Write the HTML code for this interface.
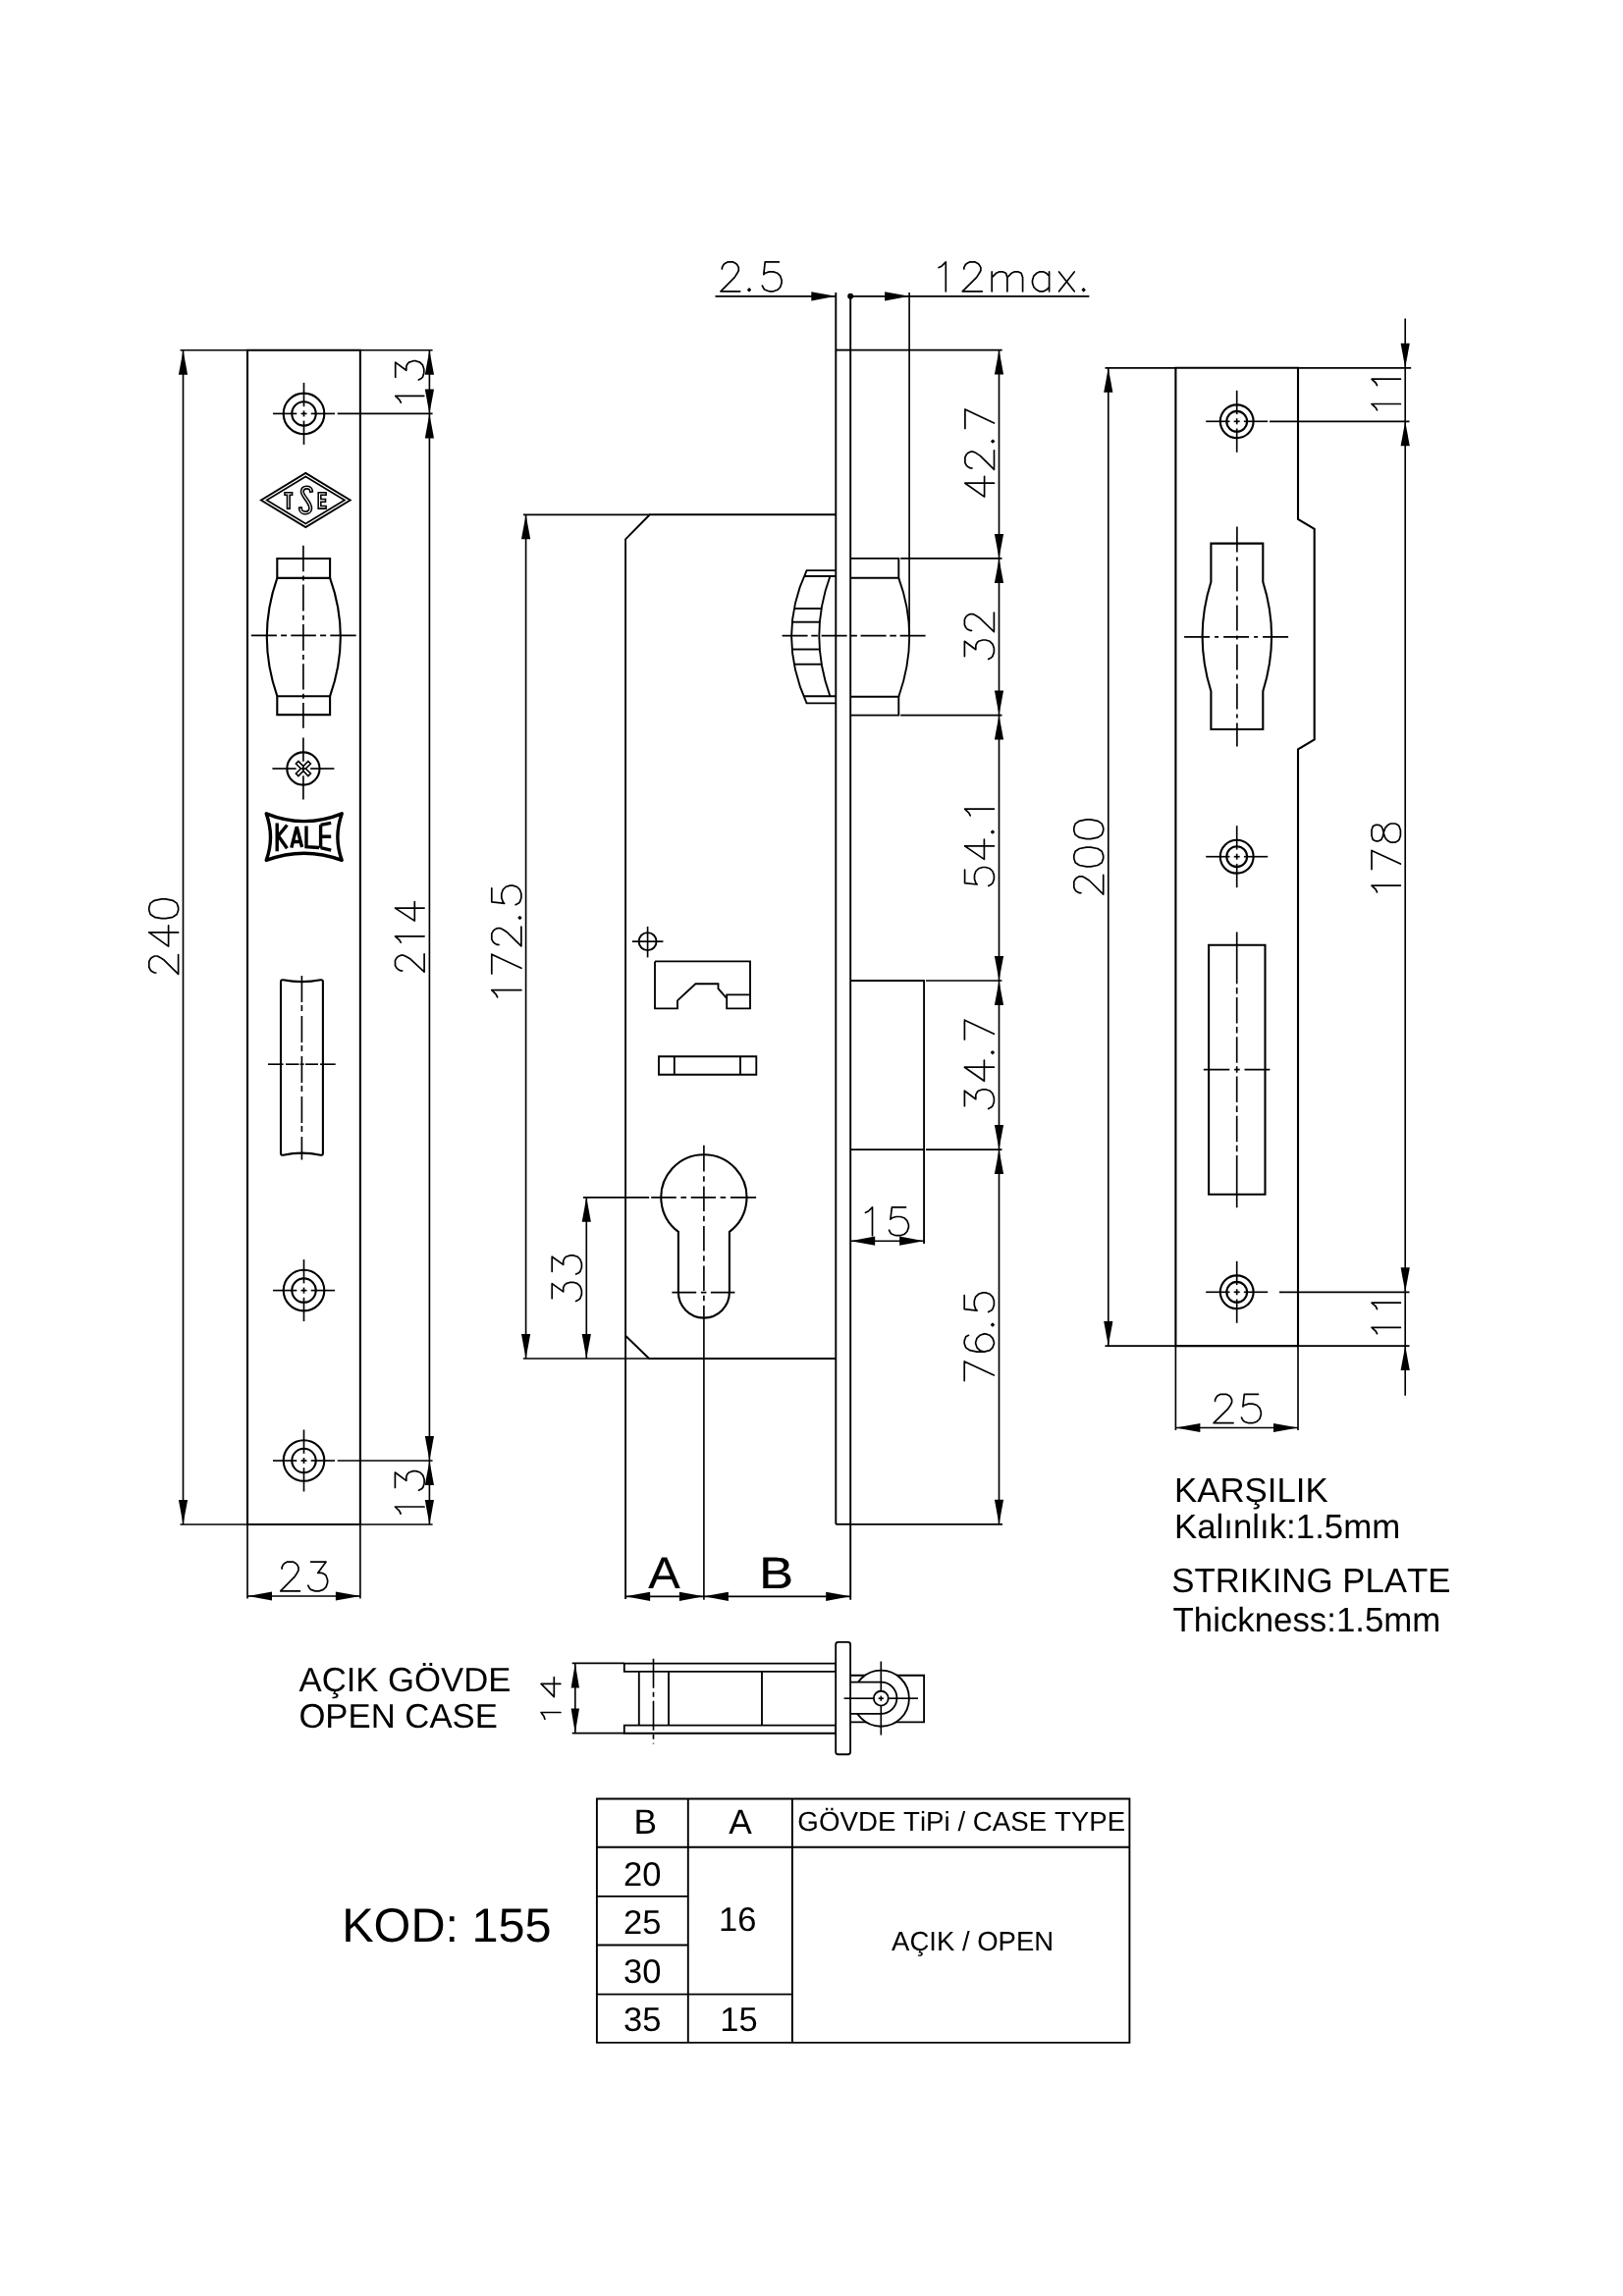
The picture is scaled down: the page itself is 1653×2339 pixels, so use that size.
<!DOCTYPE html>
<html><head><meta charset="utf-8"><title>KOD 155</title>
<style>
html,body{margin:0;padding:0;background:#fff}
svg{display:block;will-change:transform}
path,circle,rect{fill:none;stroke:#000;stroke-linecap:butt;stroke-linejoin:miter}
.k{stroke-width:2.1}
.m{stroke-width:1.9}
.n{stroke-width:1.85}
.g{stroke-width:1.9}
.t{stroke-width:1.65}
.c{stroke-width:1.65}
.h{stroke-width:1.7;stroke-linecap:round;stroke-linejoin:round}
.a{fill:#000;stroke:none}
.w{stroke:#fff}
text{font-family:"Liberation Sans",sans-serif;fill:#000;font-kerning:none;text-rendering:geometricPrecision}
</style></head>
<body>
<svg width="1653" height="2339" viewBox="0 0 1653 2339">
<rect x="0" y="0" width="1653" height="2339" style="fill:#fff;stroke:none"/>
<path class="k" d="M252.0 356.7H366.9V1553.0H252.0Z"/>
<circle class="k" cx="309.5" cy="421.4" r="20.8"/>
<circle class="k" cx="309.5" cy="421.4" r="12.2"/>
<path class="c" d="M278 421.4L302.3 421.4"/>
<path class="c" d="M306.5 421.4L312.5 421.4"/>
<path class="c" d="M316.7 421.4L341 421.4"/>
<path class="c" d="M309.5 389.9L309.5 414.2"/>
<path class="c" d="M309.5 418.4L309.5 424.4"/>
<path class="c" d="M309.5 428.6L309.5 452.9"/>
<circle class="k" cx="309.5" cy="1314.6" r="20.8"/>
<circle class="k" cx="309.5" cy="1314.6" r="12.2"/>
<path class="c" d="M278 1314.6L302.3 1314.6"/>
<path class="c" d="M306.5 1314.6L312.5 1314.6"/>
<path class="c" d="M316.7 1314.6L341 1314.6"/>
<path class="c" d="M309.5 1283.1L309.5 1307.4"/>
<path class="c" d="M309.5 1311.6L309.5 1317.6"/>
<path class="c" d="M309.5 1321.8L309.5 1346.1"/>
<circle class="k" cx="309.5" cy="1488" r="20.8"/>
<circle class="k" cx="309.5" cy="1488" r="12.2"/>
<path class="c" d="M278 1488L302.3 1488"/>
<path class="c" d="M306.5 1488L312.5 1488"/>
<path class="c" d="M316.7 1488L341 1488"/>
<path class="c" d="M309.5 1456.5L309.5 1480.8"/>
<path class="c" d="M309.5 1485L309.5 1491"/>
<path class="c" d="M309.5 1495.2L309.5 1519.5"/>
<path class="k" d="M265.9 509.5L311.3 481.9L356.7 509.5L311.3 537.1Z" style="stroke-width:1.9"/>
<path class="k" d="M271.7 509.5L311.3 485.4L350.9 509.5L311.3 533.6Z" style="stroke-width:1.7"/>
<path class="k" d="M291.3 503H296.3M293.8 503V516.8 M316.9 499.8C316.3 495.5 308.2 495.1 307.8 500.7C307.5 505.2 316.4 511.5 316.2 517.9C316 523.5 306.7 524.2 306 518.4 M330.8 503H325.5V516.8H330.8M325.5 509.9H330.2" style="stroke-width:4.2;stroke-linecap:square;stroke-linejoin:miter"/>
<path class="w" d="M291.3 503H296.3M293.8 503V516.8 M316.9 499.8C316.3 495.5 308.2 495.1 307.8 500.7C307.5 505.2 316.4 511.5 316.2 517.9C316 523.5 306.7 524.2 306 518.4 M330.8 503H325.5V516.8H330.8M325.5 509.9H330.2" style="stroke-width:1.1;stroke-linecap:square;stroke-linejoin:miter"/>
<path class="k" d="M282.3 569H336.1V588.9H282.3ZM282.3 709.2H336.1V728.1H282.3Z"/>
<path class="k" d="M282.3 588.9Q261.3 648.6 282.3 709.2M336.1 588.9Q357.5 648.6 336.1 709.2"/>
<path class="c" d="M308.9 555.8L308.9 582.2M308.9 586.4L308.9 591.4M308.9 595.6L308.9 622.5M308.9 626.7L308.9 631.7M308.9 635.9L308.9 662.8M308.9 667.0L308.9 672.0M308.9 676.2L308.9 702.5M308.9 706.7L308.9 711.7M308.9 715.9L308.9 741.8"/>
<path class="c" d="M255.8 647.3L281.9 647.3M286.1 647.3L292.1 647.3M296.3 647.3L321.9 647.3M326.1 647.3L332.1 647.3M336.3 647.3L362.7 647.3"/>
<circle class="k" cx="308.9" cy="783" r="16.6"/>
<path class="c" d="M277.4 783L301.7 783"/>
<path class="c" d="M305.9 783L311.9 783"/>
<path class="c" d="M316.1 783L340.4 783"/>
<path class="c" d="M308.9 751.5L308.9 775.8"/>
<path class="c" d="M308.9 780L308.9 786"/>
<path class="c" d="M308.9 790.2L308.9 814.5"/>
<path class="k" d="M313.9 775.5L316.4 778.0L311.4 783.0L316.4 788.0L313.9 790.5L308.9 785.5L303.9 790.5L301.4 788.0L306.4 783.0L301.4 778.0L303.9 775.5L308.9 780.5Z" style="stroke-width:1.6"/>
<path class="k" d="M271.2 828.8Q309.7 844.4 348.2 828.8Q339.6 852.6 348.2 876.4Q309.7 862 271.2 876.4Q279.8 852.6 271.2 828.8Z" style="stroke-width:3.4;stroke-linejoin:round"/>
<path class="k" d="M282.2 838.6V867.2M292.4 840.5L283.4 851.5L292.4 864.3 M296.8 863.6L302.2 842.3L307.6 863M299 857.5H306 M312 841.6V862.6L325 863.5 M326.6 840.3V863.7M326.6 840.3L337.2 838.3M326.6 852.3H337.2M326.6 863.7L337.2 866.1" style="stroke-width:3.4;stroke-linecap:butt;stroke-linejoin:miter"/>
<path class="k" d="M286 1000.3Q286 998 288.3 998.3Q307.4 1002 326.6 998.3Q328.9 998 328.9 1000.3V1174.7Q328.9 1177 326.6 1176.7Q307.4 1172.5 288.3 1176.7Q286 1177 286 1174.7Z"/>
<path class="c" d="M307.4 994L307.4 1181.4" stroke-dasharray="27 3 6 5" stroke-dashoffset="0"/>
<path class="c" d="M273 1084.2L288.5 1084.2"/>
<path class="c" d="M291 1084.2L304.5 1084.2"/>
<path class="c" d="M305.6 1084.2L309.6 1084.2"/>
<path class="c" d="M311 1084.2L324 1084.2"/>
<path class="c" d="M326 1084.2L341.7 1084.2"/>
<path class="t" d="M183.5 356.7L252 356.7"/>
<path class="t" d="M183.5 1553L252 1553"/>
<path class="t" d="M186.5 356.7L186.5 1553"/>
<path class="a" d="M186.5 356.7L191.1 381.7L181.9 381.7Z"/>
<path class="a" d="M186.5 1553L181.9 1528L191.1 1528Z"/>
<path class="t" d="M366.9 356.7L440.6 356.7"/>
<path class="t" d="M366.9 1553L440.6 1553"/>
<path class="t" d="M343.7 421.4L440.6 421.4"/>
<path class="t" d="M343.7 1488L440.6 1488"/>
<path class="t" d="M437.4 356.7L437.4 1553"/>
<path class="a" d="M437.4 356.7L442 381.7L432.8 381.7Z"/>
<path class="a" d="M437.4 421.4L432.8 396.4L442 396.4Z"/>
<path class="a" d="M437.4 421.4L442 446.4L432.8 446.4Z"/>
<path class="a" d="M437.4 1488L432.8 1463L442 1463Z"/>
<path class="a" d="M437.4 1488L442 1513L432.8 1513Z"/>
<path class="a" d="M437.4 1553L432.8 1528L442 1528Z"/>
<path class="t" d="M252 1553L252 1628.6"/>
<path class="t" d="M366.9 1553L366.9 1628.6"/>
<path class="t" d="M252 1626L366.9 1626"/>
<path class="a" d="M252 1626L277 1621.4L277 1630.6Z"/>
<path class="a" d="M366.9 1626L341.9 1630.6L341.9 1621.4Z"/>
<path class="h" d="M408.3 410.1 L406.9 407.4 L402.7 403.3 L431.8 403.3 M402.7 384.2 L402.7 369.1 L413.8 377.3 L413.8 373.2 L415.2 370.5 L416.6 369.1 L420.8 367.7 L423.5 367.7 L427.7 369.1 L430.5 371.9 L431.8 376.0 L431.8 380.1 L430.5 384.2 L429.1 385.5 L426.3 386.9"/>
<path class="h" d="M158.8 991.0 L157.4 991.0 L154.6 989.6 L153.2 988.2 L151.8 985.4 L151.8 979.7 L153.2 976.8 L154.6 975.4 L157.4 974.0 L160.3 974.0 L163.1 975.4 L167.4 978.3 L181.6 992.4 L181.6 972.6 M151.8 949.9 L171.6 964.1 L171.6 942.8 M151.8 949.9 L181.6 949.9 M151.8 927.2 L153.2 931.5 L157.4 934.3 L164.5 935.7 L168.8 935.7 L175.9 934.3 L180.1 931.5 L181.6 927.2 L181.6 924.4 L180.1 920.1 L175.9 917.3 L168.8 915.9 L164.5 915.9 L157.4 917.3 L153.2 920.1 L151.8 924.4 L151.8 927.2"/>
<path class="h" d="M409.6 988.9 L408.2 988.9 L405.4 987.5 L404.0 986.2 L402.5 983.6 L402.5 978.4 L404.0 975.9 L405.4 974.5 L408.2 973.2 L411.0 973.2 L413.8 974.5 L418.1 977.1 L432.1 990.1 L432.1 971.9 M408.2 960.2 L406.8 957.6 L402.5 953.8 L432.1 953.8 M402.5 925.1 L422.3 938.1 L422.3 918.6 M402.5 925.1 L432.1 925.1"/>
<path class="h" d="M408.1 1542.0 L406.7 1539.2 L402.4 1535.0 L432.1 1535.0 M402.4 1515.4 L402.4 1500.0 L413.8 1508.4 L413.8 1504.2 L415.2 1501.4 L416.6 1500.0 L420.8 1498.6 L423.7 1498.6 L427.9 1500.0 L430.7 1502.8 L432.1 1507.0 L432.1 1511.2 L430.7 1515.4 L429.3 1516.8 L426.5 1518.2"/>
<path class="h" d="M287.1 1598.1 L287.1 1596.7 L288.5 1593.9 L289.9 1592.5 L292.7 1591.1 L298.3 1591.1 L301.1 1592.5 L302.6 1593.9 L304.0 1596.7 L304.0 1599.6 L302.6 1602.4 L299.7 1606.7 L285.7 1620.9 L305.4 1620.9 M316.6 1591.1 L332.1 1591.1 L323.7 1602.4 L327.9 1602.4 L330.7 1603.8 L332.1 1605.2 L333.6 1609.5 L333.6 1612.3 L332.1 1616.6 L329.3 1619.4 L325.1 1620.9 L320.9 1620.9 L316.6 1619.4 L315.2 1618.0 L313.8 1615.2"/>
<path class="m" d="M851.3 298V1552.8 M866.2 301.8V1629.8"/>
<path class="m" d="M851.3 356.6L866.2 356.6"/>
<path class="m" d="M851.3 1552.8L866.2 1552.8"/>
<path class="m" d="M851.3 524.3H661.8L637.1 549.3V1360.8L661.1 1384.0H851.3"/>
<path class="m" d="M637.1 1360.8L637.1 1629"/>
<path class="t" d="M533 524.3L661.8 524.3"/>
<path class="t" d="M532.8 1384L661.1 1384"/>
<path class="t" d="M535.6 524.3L535.6 1384"/>
<path class="a" d="M535.6 524.3L540.2 549.3L531 549.3Z"/>
<path class="a" d="M535.6 1384L531 1359L540.2 1359Z"/>
<path class="t" d="M593.9 1219.8L661.2 1219.8"/>
<path class="t" d="M597.3 1219.8L597.3 1384"/>
<path class="a" d="M597.3 1219.8L601.9 1244.8L592.7 1244.8Z"/>
<path class="a" d="M597.3 1384L592.7 1359L601.9 1359Z"/>
<path class="k" d="M690.9 1254.8A43.6 43.6 0 1 1 742.9 1254.8V1316.6A26.0 26.0 0 0 1 690.9 1316.6Z"/>
<path class="c" d="M663.2 1219.8L688.8 1219.8M693.4 1219.8L699.1 1219.8M703.7 1219.8L729.0 1219.8M733.6 1219.8L739.2 1219.8M743.9 1219.8L770.1 1219.8"/>
<path class="c" d="M716.9 1166.8L716.9 1193.6M716.9 1198.3L716.9 1203.7M716.9 1208.4L716.9 1234.1M716.9 1238.8L716.9 1244.2M716.9 1248.9L716.9 1274.6M716.9 1279.3L716.9 1284.7M716.9 1289.4L716.9 1315.1M716.9 1319.8L716.9 1325.2M716.9 1329.9L716.9 1629.8"/>
<path class="c" d="M684.4 1316.6L709.2 1316.6M713.9 1316.6L719.4 1316.6M723.9 1316.6L748.4 1316.6"/>
<circle class="m" cx="659.6" cy="959.1" r="9"/>
<path class="t" d="M643.9 959.1L675.4 959.1"/>
<path class="t" d="M659.6 943.9L659.6 975.4"/>
<path class="n" d="M667 979.4H764V1027.4H740.2V1013.3H764M740.2 1017.1L731.5 1007.1V1002.2H708.4L690 1019.3V1027.4H667V979.4"/>
<path class="n" d="M671 1076.2H770.3V1094.7H671ZM686.8 1076.2V1094.7M754 1076.2V1094.7"/>
<path class="m" d="M866.2 568.9H915.3V588.8H866.2M866.2 709.7H915.3V728.6H866.2"/>
<path class="m" d="M915.3 588.8Q937.1 647.6 915.3 709.7"/>
<path class="t" d="M926.1 298L926.1 647.6"/>
<path class="c" d="M796.6 647.6L943.2 647.6" stroke-dasharray="26 3.7 6.6 3.7" stroke-dashoffset="0"/>
<path class="m" d="M851.3 581.1H821.6Q790.6 647.6 821.6 716.4H851.3 M851.3 587H819.4M851.3 709.2H819.4"/>
<path class="m" d="M845.4 587Q823.2 647.6 845.4 709.2"/>
<path class="m" d="M809.6 619.9L836.7 619.9"/>
<path class="m" d="M807.1 633.7L835.2 633.7"/>
<path class="m" d="M807.1 661.5L835.2 661.5"/>
<path class="m" d="M809.6 676.7L836.7 676.7"/>
<path class="m" d="M866.2 999H941.1V1267M866.2 1171.1H941.1"/>
<path class="t" d="M866.2 1264.2L941.1 1264.2"/>
<path class="a" d="M866.2 1264.2L891.2 1259.6L891.2 1268.8Z"/>
<path class="a" d="M941.1 1264.2L916.1 1268.8L916.1 1259.6Z"/>
<path class="t" d="M866.2 356.6L1020.7 356.6"/>
<path class="t" d="M917.2 568.9L1020.5 568.9"/>
<path class="t" d="M917.2 728.6L1020.5 728.6"/>
<path class="t" d="M943 999L1020.5 999"/>
<path class="t" d="M943 1171.1L1020.5 1171.1"/>
<path class="t" d="M866.2 1552.8L1021 1552.8"/>
<path class="t" d="M1017.5 356.6L1017.5 1552.8"/>
<path class="a" d="M1017.5 356.6L1022.1 381.6L1012.9 381.6Z"/>
<path class="a" d="M1017.5 568.9L1012.9 543.9L1022.1 543.9Z"/>
<path class="a" d="M1017.5 568.9L1022.1 593.9L1012.9 593.9Z"/>
<path class="a" d="M1017.5 728.6L1012.9 703.6L1022.1 703.6Z"/>
<path class="a" d="M1017.5 728.6L1022.1 753.6L1012.9 753.6Z"/>
<path class="a" d="M1017.5 999L1012.9 974L1022.1 974Z"/>
<path class="a" d="M1017.5 999L1022.1 1024L1012.9 1024Z"/>
<path class="a" d="M1017.5 1171.1L1012.9 1146.1L1022.1 1146.1Z"/>
<path class="a" d="M1017.5 1171.1L1022.1 1196.1L1012.9 1196.1Z"/>
<path class="a" d="M1017.5 1552.8L1012.9 1527.8L1022.1 1527.8Z"/>
<path class="t" d="M728.5 301.8L851.3 301.8"/>
<path class="a" d="M851.3 301.8L826.3 306.4L826.3 297.2Z"/>
<circle class="a" cx="866.2" cy="301.8" r="3"/>
<path class="t" d="M866.2 301.8L1109.4 301.8"/>
<path class="a" d="M926.1 301.8L901.1 306.4L901.1 297.2Z"/>
<path class="t" d="M637.1 1626.3L716.9 1626.3"/>
<path class="a" d="M637.1 1626.3L662.1 1621.7L662.1 1630.9Z"/>
<path class="a" d="M716.9 1626.3L691.9 1630.9L691.9 1621.7Z"/>
<path class="t" d="M716.9 1626.3L866.2 1626.3"/>
<path class="a" d="M716.9 1626.3L741.9 1621.7L741.9 1630.9Z"/>
<path class="a" d="M866.2 1626.3L841.2 1630.9L841.2 1621.7Z"/>
<text x="676.5" y="1617.7" font-size="45.3" text-anchor="middle" style="stroke:#000;stroke-width:0.2" transform="translate(676.5 0) scale(1.075 1) translate(-676.5 0)">A</text>
<text x="790.5" y="1617.7" font-size="45.3" text-anchor="middle" style="stroke:#000;stroke-width:0.2" transform="translate(790.5 0) scale(1.165 1) translate(-790.5 0)">B</text>
<path class="h" d="M735.4 274.0 L735.4 272.6 L736.8 269.8 L738.2 268.4 L741.0 266.9 L746.7 266.9 L749.5 268.4 L750.9 269.8 L752.3 272.6 L752.3 275.5 L750.9 278.3 L748.1 282.6 L734.0 296.8 L753.7 296.8 M763.1 294.2 L761.9 295.3 L763.1 296.5 L764.2 295.3 L763.1 294.2 M793.3 266.9 L779.2 266.9 L777.8 279.7 L779.2 278.3 L783.4 276.9 L787.7 276.9 L791.9 278.3 L794.7 281.1 L796.1 285.4 L796.1 288.2 L794.7 292.5 L791.9 295.3 L787.7 296.8 L783.4 296.8 L779.2 295.3 L777.8 293.9 L776.4 291.1"/>
<path class="h" d="M956.1 272.6 L959.0 271.2 L963.3 266.9 L963.3 296.8 M981.8 274.0 L981.8 272.6 L983.2 269.8 L984.6 268.4 L987.5 266.9 L993.2 266.9 L996.0 268.4 L997.4 269.8 L998.9 272.6 L998.9 275.5 L997.4 278.3 L994.6 282.6 L980.3 296.8 L1000.3 296.8 M1010.2 276.9 L1010.2 296.8 M1010.2 282.6 L1014.5 278.3 L1017.4 276.9 L1021.6 276.9 L1024.5 278.3 L1025.9 282.6 L1025.9 296.8 M1025.9 282.6 L1030.2 278.3 L1033.0 276.9 L1037.3 276.9 L1040.1 278.3 L1041.6 282.6 L1041.6 296.8 M1068.6 276.9 L1068.6 296.8 M1068.6 281.1 L1065.7 278.3 L1062.9 276.9 L1058.6 276.9 L1055.8 278.3 L1052.9 281.1 L1051.5 285.4 L1051.5 288.2 L1052.9 292.5 L1055.8 295.3 L1058.6 296.8 L1062.9 296.8 L1065.7 295.3 L1068.6 292.5 M1078.6 276.9 L1094.2 296.8 M1094.2 276.9 L1078.6 296.8 M1103.6 294.2 L1102.5 295.3 L1103.6 296.5 L1104.8 295.3 L1103.6 294.2"/>
<path class="h" d="M982.9 492.2 L1002.6 506.1 L1002.6 485.3 M982.9 492.2 L1012.5 492.2 M989.9 476.9 L988.5 476.9 L985.7 475.5 L984.3 474.1 L982.9 471.3 L982.9 465.8 L984.3 463.0 L985.7 461.6 L988.5 460.2 L991.3 460.2 L994.2 461.6 L998.4 464.4 L1012.5 478.3 L1012.5 458.8 M1010.0 449.6 L1011.1 450.7 L1012.3 449.6 L1011.1 448.5 L1010.0 449.6 M982.9 417.0 L1012.5 431.0 M982.9 436.5 L982.9 417.0"/>
<path class="h" d="M982.4 668.6 L982.4 653.3 L993.8 661.7 L993.8 657.5 L995.2 654.7 L996.6 653.3 L1000.9 652.0 L1003.8 652.0 L1008.1 653.3 L1010.9 656.1 L1012.4 660.3 L1012.4 664.4 L1010.9 668.6 L1009.5 670.0 L1006.6 671.4 M989.5 642.3 L988.1 642.3 L985.2 640.9 L983.8 639.5 L982.4 636.7 L982.4 631.2 L983.8 628.4 L985.2 627.0 L988.1 625.6 L990.9 625.6 L993.8 627.0 L998.1 629.8 L1012.4 643.6 L1012.4 624.2"/>
<path class="h" d="M982.6 886.2 L982.6 899.7 L995.3 901.0 L993.9 899.7 L992.5 895.6 L992.5 891.6 L993.9 887.5 L996.7 884.8 L1001.0 883.5 L1003.8 883.5 L1008.1 884.8 L1010.9 887.5 L1012.4 891.6 L1012.4 895.6 L1010.9 899.7 L1009.5 901.0 L1006.7 902.4 M982.6 861.9 L1002.4 875.4 L1002.4 855.2 M982.6 861.9 L1012.4 861.9 M1009.8 847.6 L1010.9 848.7 L1012.1 847.6 L1010.9 846.5 L1009.8 847.6 M988.2 830.9 L986.8 828.2 L982.6 824.1 L1012.4 824.1"/>
<path class="h" d="M982.4 1126.7 L982.4 1111.2 L993.8 1119.7 L993.8 1115.4 L995.2 1112.6 L996.6 1111.2 L1000.9 1109.8 L1003.8 1109.8 L1008.1 1111.2 L1010.9 1114.0 L1012.4 1118.3 L1012.4 1122.5 L1010.9 1126.7 L1009.5 1128.1 L1006.6 1129.6 M982.4 1087.2 L1002.4 1101.3 L1002.4 1080.1 M982.4 1087.2 L1012.4 1087.2 M1009.8 1072.2 L1010.9 1073.3 L1012.1 1072.2 L1010.9 1071.1 L1009.8 1072.2 M982.4 1039.2 L1012.4 1053.3 M982.4 1058.9 L982.4 1039.2"/>
<path class="h" d="M982.2 1386.9 L1012.4 1400.9 M982.2 1406.6 L982.2 1386.9 M986.5 1360.3 L983.7 1361.7 L982.2 1365.9 L982.2 1368.7 L983.7 1372.9 L988.0 1375.7 L995.1 1377.1 L1002.3 1377.1 L1008.1 1375.7 L1010.9 1372.9 L1012.4 1368.7 L1012.4 1367.3 L1010.9 1363.1 L1008.1 1360.3 L1003.8 1358.9 L1002.3 1358.9 L998.0 1360.3 L995.1 1363.1 L993.7 1367.3 L993.7 1368.7 L995.1 1372.9 L998.0 1375.7 L1002.3 1377.1 M1009.8 1349.6 L1010.9 1350.8 L1012.1 1349.6 L1010.9 1348.5 L1009.8 1349.6 M982.2 1319.7 L982.2 1333.7 L995.1 1335.1 L993.7 1333.7 L992.3 1329.5 L992.3 1325.3 L993.7 1321.1 L996.6 1318.3 L1000.9 1316.9 L1003.8 1316.9 L1008.1 1318.3 L1010.9 1321.1 L1012.4 1325.3 L1012.4 1329.5 L1010.9 1333.7 L1009.5 1335.1 L1006.6 1336.5"/>
<path class="h" d="M881.5 1235.3 L884.3 1234.0 L888.5 1229.9 L888.5 1258.7 M922.5 1229.9 L908.4 1229.9 L906.9 1242.2 L908.4 1240.8 L912.6 1239.5 L916.9 1239.5 L921.1 1240.8 L923.9 1243.6 L925.4 1247.7 L925.4 1250.4 L923.9 1254.5 L921.1 1257.3 L916.9 1258.7 L912.6 1258.7 L908.4 1257.3 L906.9 1255.9 L905.5 1253.2"/>
<path class="h" d="M506.6 1015.8 L505.1 1012.9 L500.8 1008.7 L530.9 1008.7 M500.8 972.2 L530.9 986.3 M500.8 991.9 L500.8 972.2 M508.0 962.4 L506.6 962.4 L503.7 961.0 L502.3 959.6 L500.8 956.8 L500.8 951.2 L502.3 948.4 L503.7 947.0 L506.6 945.6 L509.4 945.6 L512.3 947.0 L516.6 949.8 L530.9 963.8 L530.9 944.2 M528.3 934.9 L529.4 936.0 L530.6 934.9 L529.4 933.8 L528.3 934.9 M500.8 904.9 L500.8 918.9 L513.7 920.3 L512.3 918.9 L510.8 914.7 L510.8 910.5 L512.3 906.3 L515.1 903.5 L519.4 902.1 L522.3 902.1 L526.6 903.5 L529.4 906.3 L530.9 910.5 L530.9 914.7 L529.4 918.9 L528.0 920.3 L525.1 921.7"/>
<path class="h" d="M562.2 1322.7 L562.2 1307.6 L573.7 1315.9 L573.7 1311.7 L575.1 1309.0 L576.6 1307.6 L580.9 1306.3 L583.8 1306.3 L588.1 1307.6 L590.9 1310.4 L592.4 1314.5 L592.4 1318.6 L590.9 1322.7 L589.5 1324.1 L586.6 1325.5 M562.2 1295.3 L562.2 1280.2 L573.7 1288.4 L573.7 1284.3 L575.1 1281.6 L576.6 1280.2 L580.9 1278.9 L583.8 1278.9 L588.1 1280.2 L590.9 1283.0 L592.4 1287.1 L592.4 1291.2 L590.9 1295.3 L589.5 1296.7 L586.6 1298.0"/>
<path class="n" d="M635.8 1694.6H851.3V1702.9H635.8ZM635.8 1757.6H851.3V1765.7H635.8Z"/>
<path class="n" d="M650.8 1702.9V1757.6M681 1702.9V1757.6M776 1702.9V1757.6"/>
<path class="c" d="M665.5 1689.8L665.5 1776.5" stroke-dasharray="30 4 5 4" stroke-dashoffset="0"/>
<path class="n" d="M866.2 1706.7H941.1V1754.3H866.2"/>
<circle class="n" cx="897.3" cy="1730.2" r="28.6" style="fill:#fff"/>
<path class="n" d="M866.2 1713.6H897.3A16.15 16.15 0 0 1 897.3 1745.9H866.2" style="fill:#fff"/>
<circle class="n" cx="897.3" cy="1730.2" r="7.4"/>
<path class="t" d="M897.3 1692.5L897.3 1722.4"/>
<path class="t" d="M897.3 1738L897.3 1767.6"/>
<path class="t" d="M894.7 1730.2L899.9 1730.2"/>
<path class="t" d="M897.3 1727.6L897.3 1732.8"/>
<rect class="n" x="851.2" y="1672.9" width="14.9" height="114.3" rx="2.5" ry="2.5" style="fill:#fff"/>
<path class="t" d="M859.6 1730.2L889.5 1730.2"/>
<path class="t" d="M905.1 1730.2L935 1730.2"/>
<path class="t" d="M582.7 1694.4L635.8 1694.4"/>
<path class="t" d="M582.7 1765.6L635.8 1765.6"/>
<path class="t" d="M585.8 1694.4L585.8 1765.6"/>
<path class="a" d="M585.8 1694.4L590 1719.4L581.6 1719.4Z"/>
<path class="a" d="M585.8 1765.6L581.6 1740.6L590 1740.6Z"/>
<path class="h" d="M554.9 1751.2 L554.0 1748.5 L551.1 1744.5 L570.9 1744.5 M551.1 1715.3 L564.3 1728.6 L564.3 1708.7 M551.1 1715.3 L570.9 1715.3"/>
<text x="304.5" y="1723.3" font-size="34.7" text-anchor="start">AÇIK GÖVDE</text>
<text x="304.4" y="1760" font-size="34.7" text-anchor="start">OPEN CASE</text>
<path class="k" d="M1197.4 374.8H1322.0V529L1338.7 538.8V753.3L1322.0 763.4V1371.1H1197.4Z"/>
<circle class="k" cx="1259.7" cy="429.3" r="16.9"/>
<circle class="k" cx="1259.7" cy="429.3" r="10.4"/>
<path class="c" d="M1228.2 429.3L1252.5 429.3"/>
<path class="c" d="M1256.7 429.3L1262.7 429.3"/>
<path class="c" d="M1266.9 429.3L1291.2 429.3"/>
<path class="c" d="M1259.7 397.8L1259.7 422.1"/>
<path class="c" d="M1259.7 426.3L1259.7 432.3"/>
<path class="c" d="M1259.7 436.5L1259.7 460.8"/>
<circle class="k" cx="1259.7" cy="872.7" r="16.9"/>
<circle class="k" cx="1259.7" cy="872.7" r="10.4"/>
<path class="c" d="M1228.2 872.7L1252.5 872.7"/>
<path class="c" d="M1256.7 872.7L1262.7 872.7"/>
<path class="c" d="M1266.9 872.7L1291.2 872.7"/>
<path class="c" d="M1259.7 841.2L1259.7 865.5"/>
<path class="c" d="M1259.7 869.7L1259.7 875.7"/>
<path class="c" d="M1259.7 879.9L1259.7 904.2"/>
<circle class="k" cx="1259.7" cy="1316.3" r="16.9"/>
<circle class="k" cx="1259.7" cy="1316.3" r="10.4"/>
<path class="c" d="M1228.2 1316.3L1252.5 1316.3"/>
<path class="c" d="M1256.7 1316.3L1262.7 1316.3"/>
<path class="c" d="M1266.9 1316.3L1291.2 1316.3"/>
<path class="c" d="M1259.7 1284.8L1259.7 1309.1"/>
<path class="c" d="M1259.7 1313.3L1259.7 1319.3"/>
<path class="c" d="M1259.7 1323.5L1259.7 1347.8"/>
<path class="k" d="M1233.4 553.6H1286.3V592.7Q1303.9 648.3 1286.3 704.2V743H1233.4V704.2Q1215.8 648.3 1233.4 592.7Z"/>
<path class="c" d="M1259.9 536.6L1259.9 760.4" stroke-dasharray="26 5 4 5" stroke-dashoffset="0"/>
<path class="c" d="M1206.1 648.8L1313.7 648.8" stroke-dasharray="26 5 4 5" stroke-dashoffset="0"/>
<path class="k" d="M1231.1 962.8H1288.5V1216.8H1231.1Z"/>
<path class="c" d="M1259.7 949.5L1259.7 1002.2M1259.7 1005.9L1259.7 1012.4M1259.7 1016.0L1259.7 1042.5M1259.7 1046.1L1259.7 1052.6M1259.7 1056.2L1259.7 1082.8M1259.7 1086.3L1259.7 1092.8M1259.7 1096.5L1259.7 1123.0M1259.7 1126.6L1259.7 1133.1M1259.7 1136.7L1259.7 1163.2M1259.7 1166.8L1259.7 1173.3M1259.7 1177.0L1259.7 1230.3"/>
<path class="c" d="M1225.8 1089.6L1252.3 1089.6M1257.1 1089.6L1262.7 1089.6M1267.5 1089.6L1293.4 1089.6"/>
<path class="t" d="M1125.5 374.8L1197.4 374.8"/>
<path class="t" d="M1125.5 1371.1L1197.4 1371.1"/>
<path class="t" d="M1128.8 374.8L1128.8 1371.1"/>
<path class="a" d="M1128.8 374.8L1133.4 399.8L1124.2 399.8Z"/>
<path class="a" d="M1128.8 1371.1L1124.2 1346.1L1133.4 1346.1Z"/>
<path class="t" d="M1322 374.8L1437.2 374.8"/>
<path class="t" d="M1322 1371.1L1435.5 1371.1"/>
<path class="t" d="M1293 429.3L1435.5 429.3"/>
<path class="t" d="M1303 1316.3L1435.5 1316.3"/>
<path class="t" d="M1431.2 324.4L1431.2 1421.7"/>
<path class="a" d="M1431.2 374.8L1426.6 349.8L1435.8 349.8Z"/>
<path class="a" d="M1431.2 429.3L1435.8 454.3L1426.6 454.3Z"/>
<path class="a" d="M1431.2 1316.3L1426.6 1291.3L1435.8 1291.3Z"/>
<path class="a" d="M1431.2 1371.1L1435.8 1396.1L1426.6 1396.1Z"/>
<path class="t" d="M1197.4 1371.1L1197.4 1457"/>
<path class="t" d="M1322 1371.1L1322 1457"/>
<path class="t" d="M1197.4 1454.5L1322 1454.5"/>
<path class="a" d="M1197.4 1454.5L1222.4 1449.9L1222.4 1459.1Z"/>
<path class="a" d="M1322 1454.5L1297 1459.1L1297 1449.9Z"/>
<path class="h" d="M1100.9 909.7 L1099.4 909.7 L1096.6 908.3 L1095.2 906.9 L1093.8 904.1 L1093.8 898.4 L1095.2 895.6 L1096.6 894.2 L1099.4 892.8 L1102.3 892.8 L1105.1 894.2 L1109.4 897.0 L1123.7 911.1 L1123.7 891.4 M1093.8 874.4 L1095.2 878.7 L1099.4 881.5 L1106.6 882.9 L1110.8 882.9 L1118.0 881.5 L1122.2 878.7 L1123.7 874.4 L1123.7 871.6 L1122.2 867.3 L1118.0 864.5 L1110.8 863.1 L1106.6 863.1 L1099.4 864.5 L1095.2 867.3 L1093.8 871.6 L1093.8 874.4 M1093.8 846.2 L1095.2 850.4 L1099.4 853.2 L1106.6 854.6 L1110.8 854.6 L1118.0 853.2 L1122.2 850.4 L1123.7 846.2 L1123.7 843.3 L1122.2 839.1 L1118.0 836.3 L1110.8 834.9 L1106.6 834.9 L1099.4 836.3 L1095.2 839.1 L1093.8 843.3 L1093.8 846.2"/>
<path class="h" d="M1402.5 908.9 L1401.2 906.2 L1397.0 902.1 L1426.4 902.1 M1397.0 866.4 L1426.4 880.1 M1397.0 885.6 L1397.0 866.4 M1397.0 851.3 L1398.3 855.4 L1401.2 856.8 L1404.0 856.8 L1406.8 855.4 L1408.2 852.7 L1409.5 847.2 L1411.0 843.1 L1413.8 840.3 L1416.6 839.0 L1420.8 839.0 L1423.6 840.3 L1425.0 841.7 L1426.4 845.8 L1426.4 851.3 L1425.0 855.4 L1423.6 856.8 L1420.8 858.2 L1416.6 858.2 L1413.8 856.8 L1411.0 854.0 L1409.5 849.9 L1408.2 844.4 L1406.8 841.7 L1404.0 840.3 L1401.2 840.3 L1398.3 841.7 L1397.0 845.8 L1397.0 851.3"/>
<path class="h" d="M1402.5 417.8 L1401.2 415.3 L1397.0 411.5 L1426.4 411.5 M1402.5 392.6 L1401.2 390.0 L1397.0 386.2 L1426.4 386.2"/>
<path class="h" d="M1402.5 1358.7 L1401.2 1356.1 L1397.0 1352.4 L1426.4 1352.4 M1402.5 1333.5 L1401.2 1330.9 L1397.0 1327.2 L1426.4 1327.2"/>
<path class="h" d="M1237.6 1427.3 L1237.6 1425.9 L1239.0 1423.1 L1240.4 1421.7 L1243.2 1420.3 L1248.9 1420.3 L1251.7 1421.7 L1253.2 1423.1 L1254.6 1425.9 L1254.6 1428.7 L1253.2 1431.5 L1250.3 1435.7 L1236.1 1449.7 L1256.0 1449.7 M1281.5 1420.3 L1267.3 1420.3 L1265.9 1432.9 L1267.3 1431.5 L1271.6 1430.1 L1275.8 1430.1 L1280.1 1431.5 L1282.9 1434.3 L1284.3 1438.5 L1284.3 1441.3 L1282.9 1445.5 L1280.1 1448.2 L1275.8 1449.7 L1271.6 1449.7 L1267.3 1448.2 L1265.9 1446.9 L1264.5 1444.1"/>
<text x="1196" y="1529.8" font-size="34.8" text-anchor="start">KARŞILIK</text>
<text x="1196" y="1567.4" font-size="34.8" text-anchor="start">Kalınlık:1.5mm</text>
<text x="1193.2" y="1622.3" font-size="34.8" text-anchor="start">STRIKING PLATE</text>
<text x="1194.6" y="1662" font-size="34.8" text-anchor="start">Thickness:1.5mm</text>
<path class="g" d="M607.9 1832.5H1150.4V2080.9H607.9Z M700.8 1832.5V2080.9 M806.9 1832.5V2080.9 M607.9 1881.8H1150.4 M607.9 1931.9H700.8 M607.9 1981.5H700.8 M607.9 2031.6H806.9"/>
<text x="657.2" y="1867.9" font-size="35.3" text-anchor="middle">B</text>
<text x="754" y="1867.9" font-size="35.3" text-anchor="middle">A</text>
<text x="979.3" y="1864.9" font-size="27.7" text-anchor="middle">GÖVDE TiPi / CASE TYPE</text>
<text x="654.3" y="1920.5" font-size="34.5" text-anchor="middle">20</text>
<text x="654.3" y="1969.8" font-size="34.5" text-anchor="middle">25</text>
<text x="654.3" y="2019.8" font-size="34.5" text-anchor="middle">30</text>
<text x="654.3" y="2068.8" font-size="34.5" text-anchor="middle">35</text>
<text x="751.3" y="1967" font-size="34.5" text-anchor="middle">16</text>
<text x="752.5" y="2068.8" font-size="34.5" text-anchor="middle">15</text>
<text x="990.6" y="1986.9" font-size="27.5" text-anchor="middle">AÇIK / OPEN</text>
<text x="348.2" y="1978.2" font-size="48.6" text-anchor="start">KOD: 155</text>
</svg>
</body></html>
